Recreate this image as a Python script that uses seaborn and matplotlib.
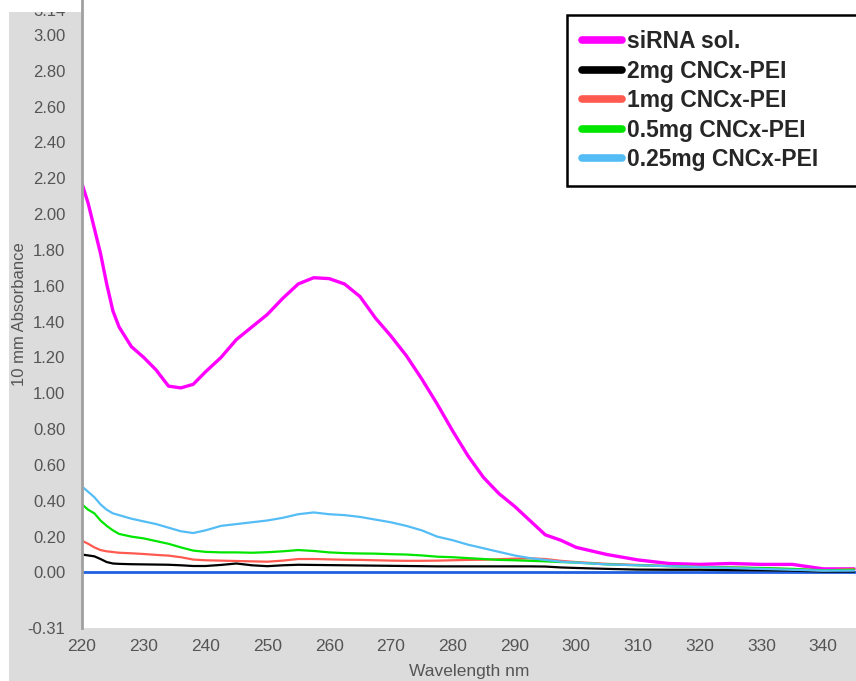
"""
siRNA / CNCx-PEI UV absorbance spectra
"""

import matplotlib
matplotlib.use('Agg')
import matplotlib.pyplot as plt
from matplotlib.patches import Rectangle
import seaborn as sns

# wavelength grid (nm)
wavelength = [220, 221, 222, 223, 224, 225, 226, 228, 230, 232, 234, 236, 238, 240,
              242.5, 245, 247.5, 250, 252.5, 255, 257.5, 260, 262.5, 265, 267.5, 270,
              272.5, 275, 277.5, 280, 282.5, 285, 287.5, 290, 292.5, 295, 297.5, 300,
              305, 310, 315, 320, 325, 330, 335, 340, 345]

sirna = [2.17, 2.06, 1.92, 1.78, 1.61, 1.46, 1.37, 1.26, 1.20, 1.13, 1.04, 1.03, 1.05, 1.12,
         1.20, 1.30, 1.37, 1.44, 1.53, 1.61, 1.645, 1.64, 1.61, 1.54, 1.42, 1.32,
         1.21, 1.08, 0.94, 0.79, 0.65, 0.53, 0.44, 0.37, 0.29, 0.21, 0.18, 0.14,
         0.10, 0.07, 0.05, 0.045, 0.05, 0.045, 0.045, 0.02, 0.02]

mg2 = [0.10, 0.095, 0.09, 0.075, 0.058, 0.05, 0.048, 0.046, 0.045, 0.044, 0.043, 0.04, 0.036, 0.036,
       0.042, 0.05, 0.04, 0.035, 0.04, 0.043, 0.042, 0.041, 0.04, 0.039, 0.038, 0.037,
       0.036, 0.035, 0.034, 0.034, 0.034, 0.034, 0.034, 0.034, 0.034, 0.033, 0.028, 0.025,
       0.02, 0.016, 0.015, 0.015, 0.013, 0.012, 0.01, 0.005, 0.005]

mg1 = [0.177, 0.16, 0.14, 0.125, 0.118, 0.114, 0.11, 0.107, 0.103, 0.098, 0.094, 0.085, 0.072, 0.068,
       0.066, 0.064, 0.062, 0.06, 0.066, 0.075, 0.075, 0.073, 0.071, 0.07, 0.068, 0.066,
       0.065, 0.065, 0.066, 0.068, 0.07, 0.071, 0.074, 0.077, 0.079, 0.075, 0.065, 0.058,
       0.048, 0.042, 0.036, 0.032, 0.028, 0.023, 0.018, 0.011, 0.02]

mg05 = [0.38, 0.35, 0.33, 0.29, 0.26, 0.235, 0.215, 0.20, 0.19, 0.175, 0.16, 0.14, 0.122, 0.115,
        0.112, 0.112, 0.11, 0.113, 0.118, 0.125, 0.12, 0.112, 0.108, 0.106, 0.105, 0.102,
        0.10, 0.095, 0.088, 0.085, 0.08, 0.075, 0.07, 0.068, 0.065, 0.062, 0.058, 0.055,
        0.045, 0.04, 0.035, 0.03, 0.028, 0.025, 0.02, 0.012, 0.015]

mg025 = [0.48, 0.45, 0.42, 0.38, 0.35, 0.33, 0.32, 0.30, 0.285, 0.27, 0.25, 0.23, 0.22, 0.235,
         0.26, 0.27, 0.28, 0.29, 0.305, 0.325, 0.335, 0.325, 0.32, 0.31, 0.295, 0.28,
         0.26, 0.235, 0.20, 0.18, 0.155, 0.135, 0.115, 0.095, 0.08, 0.07, 0.06, 0.055,
         0.045, 0.04, 0.035, 0.03, 0.025, 0.02, 0.015, 0.01, 0.01]

labels = ['siRNA sol.', '2mg CNCx-PEI', '1mg CNCx-PEI', '0.5mg CNCx-PEI', '0.25mg CNCx-PEI']
series = [sirna, mg2, mg1, mg05, mg025]
colors = ['#ff00ff', '#000000', '#ff5a50', '#00e600', '#55bdf5']

yticks = [-0.31, 0.0, 0.2, 0.4, 0.6, 0.8, 1.0, 1.2, 1.4, 1.6, 1.8, 2.0, 2.2, 2.4, 2.6, 2.8, 3.0, 3.14]
xticks = [220, 230, 240, 250, 260, 270, 280, 290, 300, 310, 320, 330, 340]

sns.set_style('white')
plt.rcParams['font.family'] = ['Liberation Sans', 'DejaVu Sans']

fig = plt.figure(figsize=(8.56, 6.81), dpi=100, facecolor='white')
W, H = 856, 681

# gray panel behind the axes
fig.patches.append(Rectangle((9 / W, 0), 1 - 9 / W, 1 - 12 / H, transform=fig.transFigure,
                             facecolor='#dcdcdc', edgecolor='none', zorder=-10))

ax = fig.add_axes([82 / W, 53 / H, 1 - 82 / W, 1 - 53 / H])
ax.set_facecolor('white')

ax.axhline(0, color='#2060e0', lw=2, zorder=1.5)

for name, color, vals in zip(labels, colors, series):
    lw = 2.4 if name == 'siRNA sol.' else 1.6
    sns.lineplot(x=wavelength, y=vals, color=color, lw=lw, label=name, ax=ax, zorder=2)

ax.set_xlim(220, 345.3)
ax.set_ylim(-0.31, 3.195)
ax.set_yticks(yticks)
ax.set_yticklabels([f'{v:.2f}' for v in yticks])
ax.set_xticks(xticks)

ax.tick_params(axis='y', direction='in', length=2, width=1, color='#9be39b',
               pad=12, labelsize=12, labelcolor='#555555')
ax.tick_params(axis='x', direction='out', length=5, width=1.5, color='#666666',
               pad=3, labelsize=12.5, labelcolor='#555555')

for side in ['top', 'right', 'bottom']:
    ax.spines[side].set_visible(False)
ax.spines['left'].set_color('#a0a0a0')
ax.spines['left'].set_linewidth(2)

ax.set_xlabel('Wavelength nm', fontsize=12.5, color='#555555', labelpad=7)
ax.set_ylabel('10 mm Absorbance', fontsize=12, color='#555555')
ax.yaxis.set_label_coords(-0.0711, 0.5)

handles, labs = ax.get_legend_handles_labels()
leg = ax.legend(handles, labs, loc='upper left',
                bbox_to_anchor=(567 / W, 1 - 15 / H - 0.01, (866 - 567) / W, 0.01),
                bbox_transform=fig.transFigure, mode='expand',
                prop={'weight': 'bold', 'size': 16.5},
                frameon=True, fancybox=False, edgecolor='black', framealpha=1,
                handlelength=1.75, handletextpad=0.2, labelspacing=0.28,
                borderpad=0.67, borderaxespad=0)
leg.get_frame().set_linewidth(1.8)
for line in leg.get_lines():
    line.set_linewidth(5.5)

# white strips round the gray panel (the top one clips the 3.14 label)
fig.patches.append(Rectangle((0, 1 - 12 / H), 82 / W - 0.001, 12 / H, transform=fig.transFigure,
                             facecolor='white', edgecolor='none', zorder=10))
fig.patches.append(Rectangle((0, 0), 9 / W, 1, transform=fig.transFigure,
                             facecolor='white', edgecolor='none', zorder=10))

plt.savefig('out.png', dpi=100)
plt.close()
